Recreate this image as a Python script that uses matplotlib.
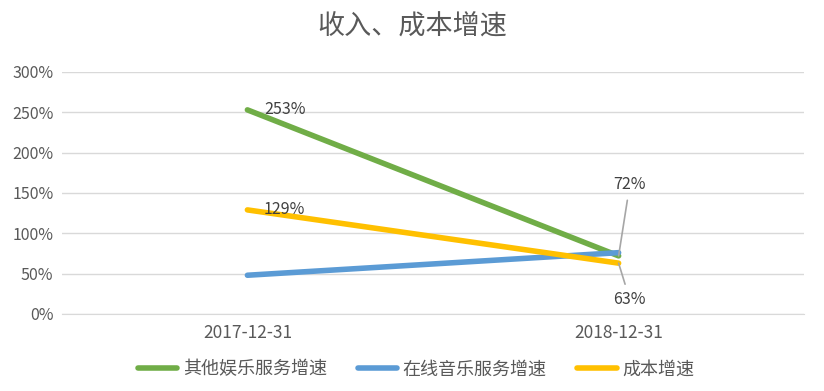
import matplotlib.pyplot as plt

plt.rcParams['font.family'] = ['Noto Sans CJK SC', 'DejaVu Sans']

dates = ['2017-12-31', '2018-12-31']
other_ent = [253, 72]
online_music = [48, 76]
cost = [129, 63]

green = '#70ad47'
blue = '#5b9bd5'
yellow = '#ffc000'
txt = '#595959'

fig = plt.figure(figsize=(8.24, 3.91), dpi=100)
ax = fig.add_axes([0.075, 0.197, 0.901, 0.619])

x = [0, 1]
ax.plot(x, other_ent, color=green, lw=4, label='其他娱乐服务增速', solid_capstyle='round')
ax.plot(x, online_music, color=blue, lw=4, label='在线音乐服务增速', solid_capstyle='round')
ax.plot(x, cost, color=yellow, lw=4, label='成本增速', solid_capstyle='round')

ax.set_xlim(-0.5, 1.5)
ax.set_ylim(0, 300)
ax.set_yticks(range(0, 301, 50))
ax.set_yticklabels([f'{v}%' for v in range(0, 301, 50)])
ax.set_xticks(x)
ax.set_xticklabels(dates)
ax.grid(axis='y', color='#d9d9d9', lw=1)
ax.set_axisbelow(True)
for s in ['top', 'right', 'left']:
    ax.spines[s].set_visible(False)
ax.spines['bottom'].set_color('#d9d9d9')
ax.tick_params(length=0, colors=txt, labelsize=11.5)
ax.tick_params(axis='x', labelsize=12.5, pad=7)
ax.tick_params(axis='y', pad=6)

lab = dict(fontsize=11.5, color='#404040', va='center')
ax.text(0.045, other_ent[0], f'{other_ent[0]}%', ha='left', **lab)
ax.text(0.045, cost[0], f'{cost[0]}%', ha='left', **lab)
ax.annotate(f'{other_ent[1]}%', xy=(1, other_ent[1]), xytext=(1.03, 160),
            ha='center', arrowprops=dict(arrowstyle='-', color='#a6a6a6', lw=1.2,
                                         shrinkA=3, shrinkB=0), **lab)
ax.annotate(f'{cost[1]}%', xy=(1, cost[1]), xytext=(1.03, 18),
            ha='center', arrowprops=dict(arrowstyle='-', color='#a6a6a6', lw=1.2,
                                         shrinkA=3, shrinkB=0), **lab)

fig.text(0.5, 0.93, '收入、成本增速', ha='center', va='center', fontsize=19.5, color=txt)
fig.legend(loc='center', bbox_to_anchor=(0.505, 0.055), ncol=3, frameon=False,
           fontsize=13, labelcolor=txt, handlelength=2.2, columnspacing=1.7,
           handletextpad=0.3)

fig.savefig('out.png', dpi=100)
